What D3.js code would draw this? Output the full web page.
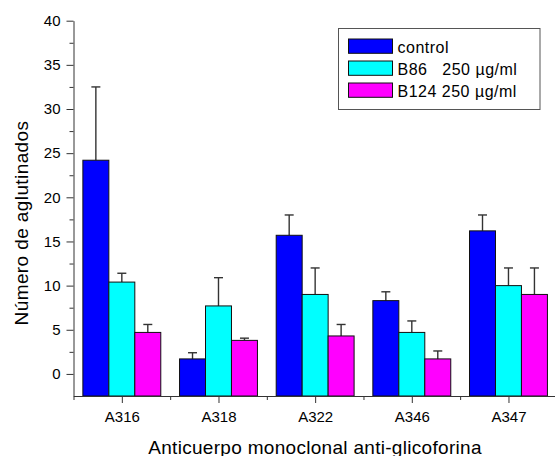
<!DOCTYPE html>
<html>
<head>
<meta charset="utf-8">
<script src="https://cdn.jsdelivr.net/npm/d3@7"></script>
<style>
  html, body { margin: 0; padding: 0; background: #fff; }
  svg { display: block; font-family: "Liberation Sans", Arial, sans-serif; }
</style>
</head>
<body>
<svg id="chart" width="555" height="456"></svg>
<script>
// ---- data ----
const categories = ["A316", "A318", "A322", "A346", "A347"];
const seriesNames = ["control", "B86   250 \u00b5g/ml", "B124 250 \u00b5g/ml"];
const controlValues = [24.2, 1.7, 15.7, 8.3, 16.2];
const controlErrors = [8.3, 0.7, 2.3, 1.0, 1.8];
const b86Values = [10.4, 7.7, 9.0, 4.7, 10.0];
const b86Errors = [1.0, 3.2, 3.0, 1.3, 2.0];
const b124Values = [4.7, 3.8, 4.3, 1.7, 9.0];
const b124Errors = [0.9, 0.25, 1.3, 0.9, 3.0];
const yMajorTicks = [0, 5, 10, 15, 20, 25, 30, 35, 40];
const yMinorTicks = [2.5, 7.5, 12.5, 17.5, 22.5, 27.5, 32.5, 37.5];
const xTitle = "Anticuerpo monoclonal anti-glicoforina";
const yTitle = "Número de aglutinados";

const seriesColors = ["#0000ff", "#00ffff", "#ff00ff"];
const series = [
  { name: seriesNames[0], values: controlValues, errors: controlErrors, color: seriesColors[0] },
  { name: seriesNames[1], values: b86Values, errors: b86Errors, color: seriesColors[1] },
  { name: seriesNames[2], values: b124Values, errors: b124Errors, color: seriesColors[2] }
];

// ---- layout ----
const svg = d3.select("#chart");
const axisX0 = 73.5, axisX1 = 556.8;
const yTop = 20.7, yBottom = 396;

const x = d3.scaleLinear().domain([-0.5, categories.length - 0.5]).range([axisX0, axisX1]);
const y = d3.scaleLinear().domain([-2.5, 40]).range([yBottom, yTop]);
const step = x(1) - x(0);
const groupW = step * 0.806;
const inner = d3.scaleBand().domain(d3.range(series.length)).range([-groupW / 2, groupW / 2]).padding(0);

// ---- bars ----
const groups = svg.append("g").selectAll("g")
  .data(series).join("g");

groups.each(function(s, si) {
  const g = d3.select(this);
  const data = categories.map((c, i) => ({ i, v: s.values[i], e: s.errors[i] }));
  const cx = d => x(d.i) + inner(si) + inner.bandwidth() / 2;
  g.selectAll("line.err").data(data).join("line")
    .attr("class", "err")
    .attr("x1", cx).attr("x2", cx)
    .attr("y1", d => y(d.v))
    .attr("y2", d => y(d.v + d.e))
    .attr("stroke", "#333").attr("stroke-width", 1.4);
  g.selectAll("line.cap").data(data).join("line")
    .attr("class", "cap")
    .attr("x1", d => cx(d) - 4.5)
    .attr("x2", d => cx(d) + 4.5)
    .attr("y1", d => y(d.v + d.e))
    .attr("y2", d => y(d.v + d.e))
    .attr("stroke", "#333").attr("stroke-width", 1.4);
  g.selectAll("rect").data(data).join("rect")
    .attr("x", d => x(d.i) + inner(si))
    .attr("width", inner.bandwidth())
    .attr("y", d => y(d.v))
    .attr("height", d => y(-2.5) - y(d.v))
    .attr("fill", s.color)
    .attr("stroke", "#111").attr("stroke-width", 1);
});

// ---- axes ----
const axisColor = "#333";
svg.append("g").attr("transform", `translate(${axisX0},0)`)
  .call(d3.axisLeft(y).tickValues(yMajorTicks).tickSize(7).tickPadding(6).tickSizeOuter(0).tickFormat(d3.format("d")));
svg.append("g").attr("transform", `translate(${axisX0},0)`)
  .call(d3.axisLeft(y).tickValues(yMinorTicks).tickSize(4).tickFormat(""))
  .call(g => g.select(".domain").remove());

svg.append("g").attr("transform", `translate(0,${yBottom})`)
  .call(d3.axisBottom(x).tickValues(d3.range(categories.length)).tickSize(7).tickPadding(8).tickSizeOuter(0)
    .tickFormat(i => categories[i]));
svg.append("g").attr("transform", `translate(0,${yBottom})`)
  .call(d3.axisBottom(x).tickValues(d3.range(categories.length + 1).map(i => i - 0.5)).tickSize(4).tickFormat(""))
  .call(g => g.select(".domain").remove());

svg.selectAll(".domain, .tick line").attr("stroke", axisColor);
svg.selectAll(".tick text").attr("font-size", 15).attr("fill", "#000")
  .attr("font-family", "'Liberation Sans', Arial, sans-serif");

// ---- titles ----
svg.append("text")
  .attr("x", 315).attr("y", 453.5)
  .attr("text-anchor", "middle")
  .attr("font-size", 19).attr("letter-spacing", 0.3)
  .text(xTitle);
svg.append("text")
  .attr("transform", "translate(27.5,223) rotate(-90)")
  .attr("text-anchor", "middle")
  .attr("font-size", 19).attr("letter-spacing", 0.4)
  .text(yTitle);

// ---- legend ----
const legend = svg.append("g");
legend.append("rect")
  .attr("x", 338.5).attr("y", 28.5).attr("width", 201.5).attr("height", 81)
  .attr("fill", "#fff").attr("stroke", "#555").attr("stroke-width", 1);
const rows = legend.selectAll("g.row").data(series).join("g").attr("class", "row")
  .attr("transform", (d, i) => `translate(348.5,${39 + i * 22})`);
rows.append("rect").attr("width", 44).attr("height", 14.3)
  .attr("fill", d => d.color).attr("stroke", "#111").attr("stroke-width", 1);
rows.append("text").attr("x", 49).attr("y", 13.5)
  .attr("font-size", 16).attr("letter-spacing", 0.5)
  .style("white-space", "pre")
  .text(d => d.name);
</script>
</body>
</html>
